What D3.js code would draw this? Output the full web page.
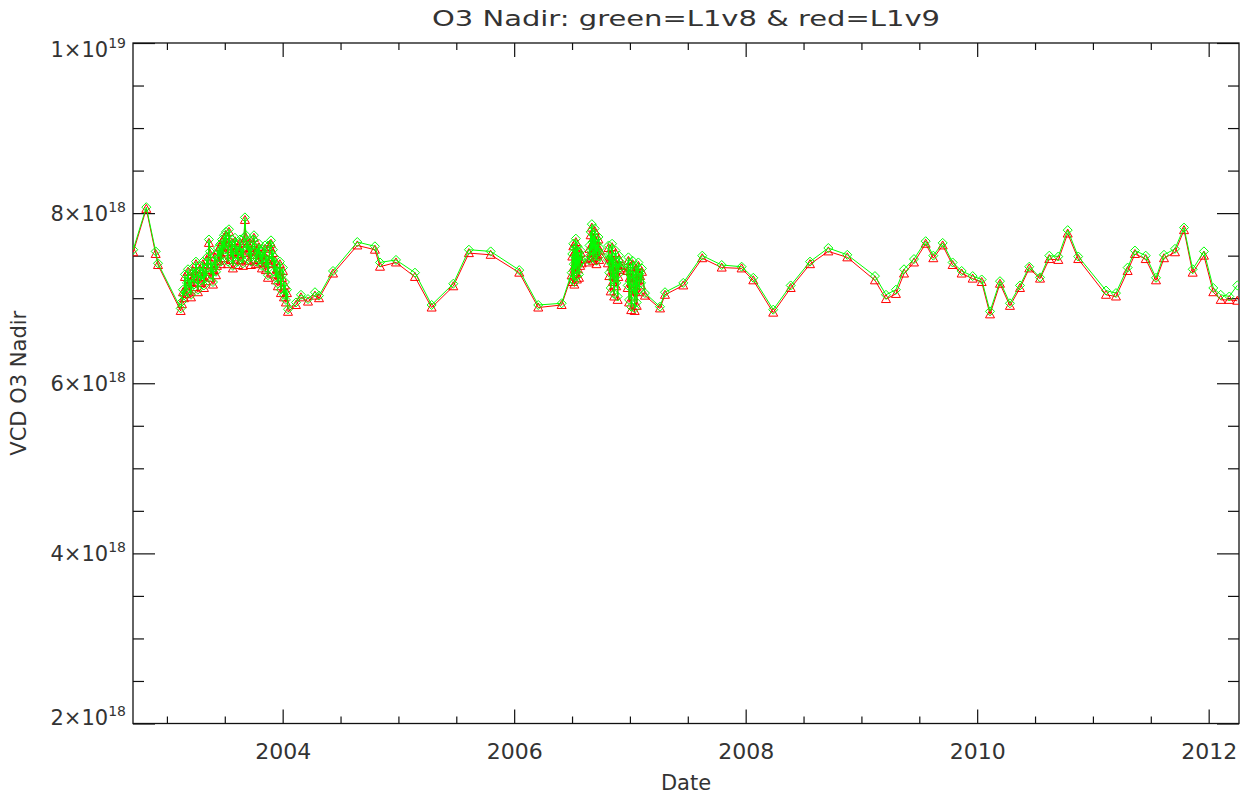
<!DOCTYPE html>
<html>
<head>
<meta charset="utf-8">
<script src="https://cdn.jsdelivr.net/npm/d3@7"></script>
<style>
  html, body { margin: 0; padding: 0; background: #fff; }
  svg { display: block; }
  text { font-family: "DejaVu Sans", "Liberation Sans", sans-serif; fill: #333; }
</style>
</head>
<body>
<svg id="chart" width="1245" height="795"></svg>
<script>
// Observation times as decimal years
const dates = [
  2002.709, 2002.822, 2002.903, 2002.923, 2003.119,
  2003.130, 2003.139, 2003.147, 2003.156, 2003.165, 2003.173, 2003.182, 2003.190, 2003.199, 2003.208,
  2003.216, 2003.225, 2003.234, 2003.242, 2003.251, 2003.260, 2003.268, 2003.277, 2003.286, 2003.294,
  2003.303, 2003.311, 2003.320, 2003.329, 2003.337, 2003.346, 2003.355, 2003.363, 2003.372, 2003.380,
  2003.389, 2003.398, 2003.406, 2003.415, 2003.424, 2003.432, 2003.441, 2003.450, 2003.458, 2003.467,
  2003.476, 2003.484, 2003.493, 2003.501, 2003.510, 2003.519, 2003.527, 2003.536, 2003.545, 2003.553,
  2003.562, 2003.570, 2003.579, 2003.588, 2003.596, 2003.605, 2003.614, 2003.622, 2003.631, 2003.640,
  2003.648, 2003.657, 2003.665, 2003.674, 2003.683, 2003.691, 2003.700, 2003.709, 2003.717, 2003.726,
  2003.735, 2003.743, 2003.752, 2003.760, 2003.769, 2003.778, 2003.786, 2003.795, 2003.804, 2003.812,
  2003.821, 2003.830, 2003.838, 2003.847, 2003.855, 2003.864, 2003.873, 2003.881, 2003.890, 2003.899,
  2003.907, 2003.916, 2003.925, 2003.933, 2003.942, 2003.950, 2003.959, 2003.968, 2003.976, 2003.985,
  2003.994, 2004.002, 2004.011, 2004.020, 2004.028, 2004.037, 2004.046,
  2004.115, 2004.158, 2004.219, 2004.279, 2004.314, 2004.435, 2004.645, 2004.797, 2004.841, 2004.979,
  2005.143, 2005.287, 2005.474, 2005.609, 2005.797, 2006.044, 2006.208, 2006.410,
  2006.497, 2006.502, 2006.506, 2006.511, 2006.515, 2006.520, 2006.524, 2006.529, 2006.533, 2006.538,
  2006.542, 2006.547, 2006.551, 2006.556, 2006.560, 2006.565, 2006.570, 2006.575, 2006.583,
  2006.646, 2006.651, 2006.656, 2006.661, 2006.666, 2006.671, 2006.676, 2006.681, 2006.686, 2006.691,
  2006.696, 2006.701, 2006.706, 2006.711, 2006.716, 2006.721, 2006.728, 2006.734, 2006.741,
  2006.810, 2006.816, 2006.822, 2006.828, 2006.834, 2006.840, 2006.846, 2006.852, 2006.858, 2006.864,
  2006.870, 2006.876, 2006.882, 2006.888, 2006.894, 2006.900, 2006.906, 2006.913, 2006.920, 2006.931,
  2006.975, 2006.981, 2006.987, 2006.993, 2006.999, 2007.005, 2007.011, 2007.017, 2007.023, 2007.029,
  2007.035, 2007.041, 2007.047, 2007.053, 2007.059, 2007.066, 2007.073, 2007.080, 2007.088, 2007.096,
  2007.104,
  2007.130, 2007.260, 2007.303, 2007.461, 2007.625, 2007.793, 2007.965, 2008.066, 2008.238, 2008.389,
  2008.556, 2008.714, 2008.878, 2009.117, 2009.212, 2009.298, 2009.368, 2009.454, 2009.555, 2009.621,
  2009.702, 2009.788, 2009.866, 2009.961, 2010.039, 2010.111, 2010.197, 2010.283, 2010.370, 2010.450,
  2010.543, 2010.623, 2010.701, 2010.782, 2010.873, 2011.113, 2011.199, 2011.300, 2011.363, 2011.456,
  2011.545, 2011.614, 2011.709, 2011.787, 2011.862, 2011.959, 2012.040, 2012.104, 2012.178, 2012.247
];

// O3 nadir vertical column density (units of 1e18), L1 version 8
const l1v8 = [
  7.57, 8.07, 7.55, 7.41, 6.88,
  6.96, 7.10, 7.03, 7.28, 7.08, 7.18, 7.34, 7.12, 7.22, 7.04,
  7.25, 7.36, 7.16, 7.29, 7.43, 7.22, 7.10, 7.31, 7.38, 7.21,
  7.28, 7.43, 7.15, 7.34, 7.24, 7.48, 7.36, 7.69, 7.55, 7.28,
  7.43, 7.19, 7.36, 7.51, 7.31, 7.41, 7.59, 7.48, 7.63, 7.43,
  7.69, 7.51, 7.74, 7.57, 7.78, 7.64, 7.43, 7.81, 7.62, 7.48,
  7.69, 7.38, 7.57, 7.71, 7.51, 7.62, 7.43, 7.55, 7.69, 7.48,
  7.59, 7.41, 7.71, 7.95, 7.74, 7.57, 7.67, 7.48, 7.62, 7.43,
  7.57, 7.69, 7.74, 7.55, 7.43, 7.59, 7.48, 7.64, 7.45, 7.55,
  7.38, 7.57, 7.48, 7.62, 7.36, 7.50, 7.27, 7.45, 7.63, 7.68,
  7.43, 7.57, 7.31, 7.48, 7.24, 7.38, 7.17, 7.31, 7.43, 7.10,
  7.27, 7.36, 7.04, 7.19, 6.98, 7.10, 6.87,
  6.95, 7.04, 6.99, 7.07, 7.03, 7.32, 7.66, 7.61, 7.42, 7.45,
  7.30, 6.92, 7.17, 7.57, 7.55, 7.33, 6.92, 6.94,
  7.30, 7.52, 7.22, 7.64, 7.40, 7.19, 7.58, 7.34, 7.70, 7.46,
  7.26, 7.61, 7.38, 7.54, 7.28, 7.49, 7.42, 7.56, 7.45,
  7.45, 7.62, 7.50, 7.78, 7.56, 7.87, 7.66, 7.48, 7.74, 7.58,
  7.82, 7.52, 7.70, 7.44, 7.64, 7.55, 7.72, 7.49, 7.59,
  7.45, 7.62, 7.30, 7.52, 7.12, 7.40, 7.64, 7.22, 7.48, 7.05,
  7.34, 7.56, 7.18, 7.42, 7.02, 7.28, 7.50, 7.36, 7.42, 7.38,
  7.36, 7.15, 7.48, 6.98, 7.28, 7.40, 6.90, 7.20, 7.44, 7.05,
  7.32, 6.88, 7.12, 7.38, 6.95, 7.25, 7.42, 7.10, 7.30, 7.18,
  7.35,
  7.06, 6.90, 7.07, 7.18, 7.50, 7.39, 7.37, 7.24, 6.865, 7.15,
  7.43, 7.59, 7.51, 7.26, 7.04, 7.10, 7.34, 7.46, 7.67, 7.50,
  7.65, 7.42, 7.32, 7.26, 7.22, 6.845, 7.20, 6.94, 7.15, 7.37,
  7.245, 7.50, 7.49, 7.80, 7.49, 7.09, 7.06, 7.36, 7.56, 7.50,
  7.24, 7.51, 7.58, 7.83, 7.34, 7.55, 7.12, 7.04, 7.02, 7.15
];

// O3 nadir vertical column density (units of 1e18), L1 version 9
const l1v9 = [
  7.54, 8.05, 7.52, 7.39, 6.85,
  6.93, 7.07, 7.00, 7.25, 7.05, 7.14, 7.31, 7.09, 7.19, 7.01,
  7.22, 7.32, 7.13, 7.26, 7.40, 7.18, 7.07, 7.28, 7.34, 7.18,
  7.25, 7.40, 7.12, 7.31, 7.20, 7.45, 7.33, 7.65, 7.52, 7.24,
  7.40, 7.16, 7.33, 7.48, 7.27, 7.38, 7.56, 7.44, 7.60, 7.40,
  7.66, 7.47, 7.71, 7.54, 7.74, 7.61, 7.40, 7.78, 7.58, 7.45,
  7.65, 7.35, 7.54, 7.67, 7.48, 7.59, 7.39, 7.52, 7.65, 7.45,
  7.55, 7.38, 7.67, 7.92, 7.71, 7.53, 7.64, 7.44, 7.59, 7.39,
  7.54, 7.65, 7.71, 7.51, 7.40, 7.55, 7.45, 7.60, 7.42, 7.51,
  7.35, 7.53, 7.45, 7.58, 7.33, 7.46, 7.24, 7.41, 7.60, 7.64,
  7.40, 7.53, 7.28, 7.44, 7.21, 7.34, 7.14, 7.27, 7.40, 7.06,
  7.24, 7.32, 7.01, 7.15, 6.95, 7.06, 6.84,
  6.92, 7.01, 6.96, 7.03, 7.00, 7.29, 7.62, 7.57, 7.37, 7.42,
  7.25, 6.89, 7.14, 7.53, 7.51, 7.30, 6.89, 6.92,
  7.27, 7.49, 7.19, 7.61, 7.36, 7.16, 7.54, 7.31, 7.66, 7.43,
  7.22, 7.58, 7.34, 7.51, 7.24, 7.46, 7.38, 7.53, 7.41,
  7.42, 7.58, 7.47, 7.74, 7.53, 7.83, 7.63, 7.44, 7.71, 7.54,
  7.79, 7.48, 7.67, 7.40, 7.61, 7.51, 7.69, 7.45, 7.56,
  7.41, 7.59, 7.26, 7.49, 7.08, 7.37, 7.60, 7.19, 7.44, 7.02,
  7.30, 7.53, 7.14, 7.39, 6.98, 7.25, 7.46, 7.33, 7.38, 7.35,
  7.32, 7.12, 7.44, 6.95, 7.24, 7.37, 6.86, 7.17, 7.40, 7.02,
  7.28, 6.85, 7.08, 7.35, 6.91, 7.22, 7.38, 7.07, 7.26, 7.15,
  7.31,
  7.03, 6.88, 7.04, 7.15, 7.47, 7.36, 7.35, 7.21, 6.83, 7.12,
  7.40, 7.55, 7.48, 7.21, 6.99, 7.05, 7.29, 7.42, 7.64, 7.47,
  7.62, 7.39, 7.29, 7.23, 7.19, 6.81, 7.17, 6.91, 7.12, 7.35,
  7.23, 7.46, 7.45, 7.76, 7.46, 7.04, 7.02, 7.32, 7.52, 7.46,
  7.21, 7.47, 7.54, 7.80, 7.30, 7.50, 7.07, 6.98, 6.98, 6.97
];

// Axis ticks and labels
const xMajorTicks = [2004, 2006, 2008, 2010, 2012];
const xMinorTicks = [2003, 2003.5, 2004.5, 2005, 2005.5, 2006.5, 2007, 2007.5, 2008.5, 2009, 2009.5, 2010.5, 2011, 2011.5];
const yMajorTicks = [2, 4, 6, 8, 10];
const yMinorTicks = [2.5, 3, 3.5, 4.5, 5, 5.5, 6.5, 7, 7.5, 8.5, 9, 9.5];
const yTickMantissa = ["2", "4", "6", "8", "1"];
const yTickExponent = ["18", "18", "18", "18", "19"];

const titleText = "O3 Nadir: green=L1v8 & red=L1v9";
const xTitle = "Date";
const yTitle = "VCD O3 Nadir";

const svg = d3.select("#chart");
const plot = { left: 133, right: 1239, top: 43, bottom: 723.5 };

const x = d3.scaleLinear().domain([2002.707, 2012.262]).range([plot.left, plot.right]);
const y = d3.scaleLinear().domain([2, 10]).range([plot.bottom, plot.top]);

function styleAxis(g) {
  g.select(".domain").remove();
  g.selectAll(".tick line").attr("stroke", "#111").attr("stroke-width", 1.2);
}

// bottom axis (ticks pointing inward)
svg.append("g").attr("transform", `translate(0,${plot.bottom})`)
  .call(d3.axisBottom(x).tickValues(xMajorTicks).tickSize(-14).tickPadding(20).tickFormat(d3.format("d")))
  .call(styleAxis)
  .call(g => g.selectAll("text").attr("font-size", 22).attr("font-family", null).attr("fill", "#333"));
svg.append("g").attr("transform", `translate(0,${plot.bottom})`)
  .call(d3.axisBottom(x).tickValues(xMinorTicks).tickSize(-7).tickFormat(""))
  .call(styleAxis);

// top axis
svg.append("g").attr("transform", `translate(0,${plot.top})`)
  .call(d3.axisBottom(x).tickValues(xMajorTicks).tickSize(14).tickFormat(""))
  .call(styleAxis);
svg.append("g").attr("transform", `translate(0,${plot.top})`)
  .call(d3.axisBottom(x).tickValues(xMinorTicks).tickSize(7).tickFormat(""))
  .call(styleAxis);

// left axis with m×10^e labels
svg.append("g").attr("transform", `translate(${plot.left},0)`)
  .call(d3.axisLeft(y).tickValues(yMajorTicks).tickSize(-22).tickPadding(7).tickFormat(""))
  .call(styleAxis)
  .call(g => g.selectAll(".tick text").each(function (d, i) {
    const t = d3.select(this).attr("font-size", 21).attr("font-family", null).attr("fill", "#333");
    t.text(null);
    const shift = i === 0 ? -6 : (i === yMajorTicks.length - 1 ? 6 : 0);
    t.attr("dy", null).attr("y", 7 + shift);
    t.append("tspan").text(yTickMantissa[i] + "\u00d710");
    t.append("tspan").attr("font-size", 14).attr("dy", -9).text(yTickExponent[i]);
  }));
svg.append("g").attr("transform", `translate(${plot.left},0)`)
  .call(d3.axisLeft(y).tickValues(yMinorTicks).tickSize(-11).tickFormat(""))
  .call(styleAxis);

// right axis
svg.append("g").attr("transform", `translate(${plot.right},0)`)
  .call(d3.axisRight(y).tickValues(yMajorTicks).tickSize(-22).tickFormat(""))
  .call(styleAxis);
svg.append("g").attr("transform", `translate(${plot.right},0)`)
  .call(d3.axisRight(y).tickValues(yMinorTicks).tickSize(-11).tickFormat(""))
  .call(styleAxis);

// plot frame
svg.append("rect")
  .attr("x", plot.left).attr("y", plot.top)
  .attr("width", plot.right - plot.left).attr("height", plot.bottom - plot.top)
  .attr("fill", "none").attr("stroke", "#111").attr("stroke-width", 1.3);

// titles
svg.append("text").attr("x", (plot.left + plot.right) / 2).attr("y", 26)
  .attr("text-anchor", "middle").attr("font-size", 22)
  .attr("textLength", 508).attr("lengthAdjust", "spacingAndGlyphs")
  .text(titleText);
svg.append("text").attr("x", (plot.left + plot.right) / 2).attr("y", 790)
  .attr("text-anchor", "middle").attr("font-size", 21)
  .text(xTitle);
svg.append("text")
  .attr("transform", `translate(26,${(plot.top + plot.bottom) / 2}) rotate(-90)`)
  .attr("text-anchor", "middle").attr("font-size", 21)
  .attr("textLength", 145).attr("lengthAdjust", "spacingAndGlyphs")
  .text(yTitle);

// series: red L1v9 first, green L1v8 over it
svg.append("defs").append("clipPath").attr("id", "plot-clip")
  .append("rect").attr("x", plot.left).attr("y", plot.top)
  .attr("width", plot.right - plot.left).attr("height", plot.bottom - plot.top);

const series = [
  { name: "L1v9", values: l1v9, color: "#ff0000", symbol: "M-4.5,3.5L0,-4.5L4.5,3.5Z" },
  { name: "L1v8", values: l1v8, color: "#00ff00", symbol: "M0,-4.5L4.5,0L0,4.5L-4.5,0Z" }
];

const layer = svg.append("g").attr("clip-path", "url(#plot-clip)");
series.forEach(s => {
  const pts = dates.map((d, i) => [d, s.values[i]]);
  const line = d3.line().x(p => x(p[0])).y(p => y(p[1]));
  const g = layer.append("g").attr("class", "series-" + s.name);
  g.append("path").attr("d", line(pts))
    .attr("fill", "none").attr("stroke", s.color).attr("stroke-width", 1);
  g.selectAll("path.sym").data(pts).join("path")
    .attr("class", "sym")
    .attr("transform", p => `translate(${x(p[0])},${y(p[1])})`)
    .attr("d", s.symbol)
    .attr("fill", "none").attr("stroke", s.color).attr("stroke-width", 1);
});
</script>
</body>
</html>
